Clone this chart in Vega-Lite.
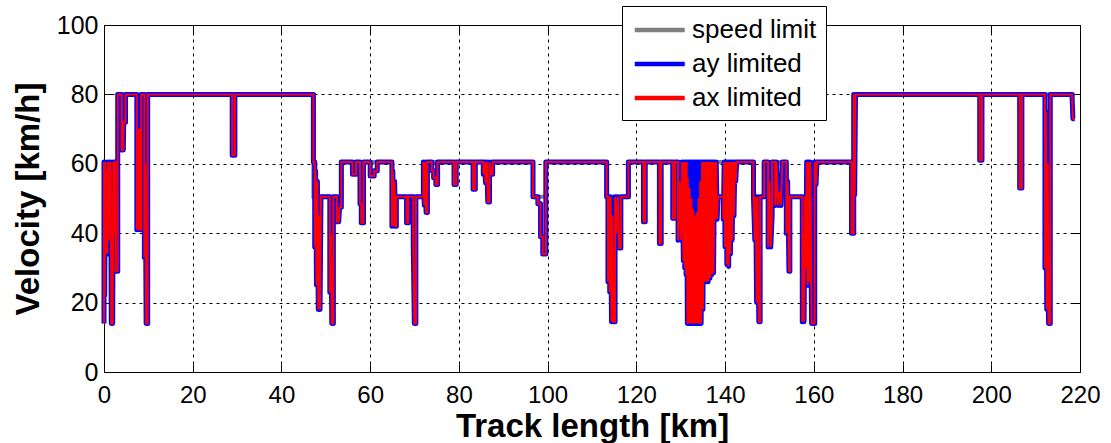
{
  "$schema": "https://vega.github.io/schema/vega-lite/v6.json",
  "width": 976,
  "height": 347,
  "autosize": {"type": "none"},
  "padding": {"left": 104, "top": 25, "right": 31, "bottom": 71},
  "background": "white",
  "config": {
    "font": "Liberation Sans",
    "view": {"stroke": "black", "strokeWidth": 1},
    "line": {"strokeJoin": "miter", "strokeCap": "butt"}
  },
  "data": {"values": [
    {"i":1,"x":0,"lim":60.5,"ay":14,"ax":14},
    {"i":2,"x":0,"lim":60.5,"ay":60.5,"ax":60.5},
    {"i":3,"x":0.15,"lim":60.5,"ay":22,"ax":22},
    {"i":4,"x":0.3,"lim":60.5,"ay":60.5,"ax":60.5},
    {"i":5,"x":0.45,"lim":60.5,"ay":34,"ax":34},
    {"i":6,"x":0.6,"lim":60.5,"ay":58,"ax":58},
    {"i":7,"x":0.75,"lim":60.5,"ay":34,"ax":34},
    {"i":8,"x":0.9,"lim":60.5,"ay":60.5,"ax":60.5},
    {"i":9,"x":1.05,"lim":60.5,"ay":38,"ax":38},
    {"i":10,"x":1.2,"lim":60.5,"ay":60.5,"ax":60.5},
    {"i":11,"x":1.35,"lim":60.5,"ay":44,"ax":44},
    {"i":12,"x":1.5,"lim":60.5,"ay":60.5,"ax":60.5},
    {"i":13,"x":1.65,"lim":60.5,"ay":14,"ax":14},
    {"i":14,"x":1.95,"lim":60.5,"ay":14,"ax":14},
    {"i":15,"x":2.1,"lim":60.5,"ay":60.5,"ax":60.5},
    {"i":16,"x":2.25,"lim":60.5,"ay":40,"ax":40},
    {"i":17,"x":2.4,"lim":60.5,"ay":60.5,"ax":60.5},
    {"i":18,"x":2.6,"lim":60.5,"ay":60.5,"ax":60.5},
    {"i":19,"x":2.6,"lim":60.5,"ay":29,"ax":29},
    {"i":20,"x":2.95,"lim":60.5,"ay":29,"ax":29},
    {"i":21,"x":3.1,"lim":60.5,"ay":29,"ax":29},
    {"i":22,"x":3.1,"lim":80,"ay":80,"ax":80},
    {"i":23,"x":4.0,"lim":80,"ay":80,"ax":80},
    {"i":24,"x":4.0,"lim":80,"ay":64,"ax":64},
    {"i":25,"x":4.35,"lim":80,"ay":64,"ax":64},
    {"i":26,"x":4.45,"lim":80,"ay":72,"ax":72},
    {"i":27,"x":4.85,"lim":80,"ay":72,"ax":72},
    {"i":28,"x":4.85,"lim":80,"ay":80,"ax":80},
    {"i":29,"x":7.4,"lim":80,"ay":80,"ax":80},
    {"i":30,"x":7.4,"lim":80,"ay":41,"ax":41},
    {"i":31,"x":7.6,"lim":80,"ay":70,"ax":70},
    {"i":32,"x":7.8,"lim":80,"ay":41,"ax":41},
    {"i":33,"x":8.0,"lim":80,"ay":70,"ax":70},
    {"i":34,"x":8.2,"lim":80,"ay":41,"ax":41},
    {"i":35,"x":8.4,"lim":80,"ay":41,"ax":41},
    {"i":36,"x":8.4,"lim":80,"ay":80,"ax":80},
    {"i":37,"x":9.1,"lim":80,"ay":80,"ax":80},
    {"i":38,"x":9.1,"lim":80,"ay":33,"ax":33},
    {"i":39,"x":9.3,"lim":80,"ay":60,"ax":60},
    {"i":40,"x":9.5,"lim":80,"ay":14,"ax":14},
    {"i":41,"x":9.85,"lim":80,"ay":14,"ax":14},
    {"i":42,"x":9.85,"lim":80,"ay":80,"ax":80},
    {"i":43,"x":28.9,"lim":80,"ay":80,"ax":80},
    {"i":44,"x":28.9,"lim":80,"ay":62.5,"ax":62.5},
    {"i":45,"x":29.5,"lim":80,"ay":62.5,"ax":62.5},
    {"i":46,"x":29.5,"lim":80,"ay":80,"ax":80},
    {"i":47,"x":47.2,"lim":80,"ay":80,"ax":80},
    {"i":48,"x":47.2,"lim":50.5,"ay":60.5,"ax":60.5},
    {"i":49,"x":47.5,"lim":50.5,"ay":60.5,"ax":60.5},
    {"i":50,"x":47.5,"lim":50.5,"ay":36,"ax":36},
    {"i":51,"x":47.7,"lim":50.5,"ay":58,"ax":58},
    {"i":52,"x":47.9,"lim":50.5,"ay":25,"ax":25},
    {"i":53,"x":48.1,"lim":50.5,"ay":55,"ax":55},
    {"i":54,"x":48.3,"lim":50.5,"ay":18,"ax":18},
    {"i":55,"x":48.5,"lim":50.5,"ay":45,"ax":45},
    {"i":56,"x":48.7,"lim":50.5,"ay":18,"ax":18},
    {"i":57,"x":48.9,"lim":50.5,"ay":50.5,"ax":50.5},
    {"i":58,"x":50.9,"lim":50.5,"ay":50.5,"ax":50.5},
    {"i":59,"x":50.9,"lim":50.5,"ay":23,"ax":23},
    {"i":60,"x":51.15,"lim":50.5,"ay":40,"ax":40},
    {"i":61,"x":51.35,"lim":50.5,"ay":14,"ax":14},
    {"i":62,"x":51.7,"lim":50.5,"ay":14,"ax":14},
    {"i":63,"x":51.7,"lim":50.5,"ay":50.5,"ax":50.5},
    {"i":64,"x":52.5,"lim":50.5,"ay":50.5,"ax":50.5},
    {"i":65,"x":52.5,"lim":50.5,"ay":43.3,"ax":43.3},
    {"i":66,"x":52.9,"lim":50.5,"ay":43.3,"ax":43.3},
    {"i":67,"x":53.1,"lim":50.5,"ay":47.5,"ax":47.5},
    {"i":68,"x":53.5,"lim":50.5,"ay":47.5,"ax":47.5},
    {"i":69,"x":53.5,"lim":60.5,"ay":60.5,"ax":60.5},
    {"i":70,"x":56.0,"lim":60.5,"ay":60.5,"ax":60.5},
    {"i":71,"x":56.0,"lim":60.5,"ay":57,"ax":57},
    {"i":72,"x":56.8,"lim":60.5,"ay":57,"ax":57},
    {"i":73,"x":56.8,"lim":60.5,"ay":60.5,"ax":60.5},
    {"i":74,"x":57.7,"lim":60.5,"ay":60.5,"ax":60.5},
    {"i":75,"x":57.7,"lim":60.5,"ay":48.5,"ax":48.5},
    {"i":76,"x":58.0,"lim":60.5,"ay":48.5,"ax":48.5},
    {"i":77,"x":58.0,"lim":60.5,"ay":43,"ax":43},
    {"i":78,"x":58.5,"lim":60.5,"ay":43,"ax":43},
    {"i":79,"x":58.5,"lim":60.5,"ay":60.5,"ax":60.5},
    {"i":80,"x":60.0,"lim":60.5,"ay":60.5,"ax":60.5},
    {"i":81,"x":60.0,"lim":60.5,"ay":56.5,"ax":56.5},
    {"i":82,"x":60.9,"lim":60.5,"ay":56.5,"ax":56.5},
    {"i":83,"x":60.9,"lim":60.5,"ay":58,"ax":58},
    {"i":84,"x":61.6,"lim":60.5,"ay":58,"ax":58},
    {"i":85,"x":61.6,"lim":60.5,"ay":60.5,"ax":60.5},
    {"i":86,"x":64.9,"lim":60.5,"ay":60.5,"ax":60.5},
    {"i":87,"x":64.9,"lim":50.5,"ay":42,"ax":42},
    {"i":88,"x":65.1,"lim":50.5,"ay":58,"ax":58},
    {"i":89,"x":65.3,"lim":50.5,"ay":42,"ax":42},
    {"i":90,"x":65.5,"lim":50.5,"ay":55,"ax":55},
    {"i":91,"x":65.7,"lim":50.5,"ay":42,"ax":42},
    {"i":92,"x":65.9,"lim":50.5,"ay":42,"ax":42},
    {"i":93,"x":65.9,"lim":50.5,"ay":50.5,"ax":50.5},
    {"i":94,"x":68.2,"lim":50.5,"ay":50.5,"ax":50.5},
    {"i":95,"x":68.2,"lim":50.5,"ay":43,"ax":43},
    {"i":96,"x":68.6,"lim":50.5,"ay":43,"ax":43},
    {"i":97,"x":68.6,"lim":50.5,"ay":50.5,"ax":50.5},
    {"i":98,"x":69.7,"lim":50.5,"ay":50.5,"ax":50.5},
    {"i":99,"x":69.7,"lim":50.5,"ay":38,"ax":38},
    {"i":100,"x":69.95,"lim":50.5,"ay":14,"ax":14},
    {"i":101,"x":70.3,"lim":50.5,"ay":14,"ax":14},
    {"i":102,"x":70.3,"lim":50.5,"ay":50.5,"ax":50.5},
    {"i":103,"x":72.0,"lim":50.5,"ay":50.5,"ax":50.5},
    {"i":104,"x":72.0,"lim":60.5,"ay":60.5,"ax":60.5},
    {"i":105,"x":72.2,"lim":60.5,"ay":48,"ax":48},
    {"i":106,"x":72.4,"lim":60.5,"ay":60.5,"ax":60.5},
    {"i":107,"x":72.6,"lim":60.5,"ay":46,"ax":46},
    {"i":108,"x":72.9,"lim":60.5,"ay":46,"ax":46},
    {"i":109,"x":72.9,"lim":60.5,"ay":60.5,"ax":60.5},
    {"i":110,"x":73.9,"lim":60.5,"ay":60.5,"ax":60.5},
    {"i":111,"x":73.9,"lim":60.5,"ay":58,"ax":58},
    {"i":112,"x":74.3,"lim":60.5,"ay":58,"ax":58},
    {"i":113,"x":74.3,"lim":60.5,"ay":56,"ax":56},
    {"i":114,"x":74.8,"lim":60.5,"ay":56,"ax":56},
    {"i":115,"x":74.8,"lim":60.5,"ay":54,"ax":54},
    {"i":116,"x":75.2,"lim":60.5,"ay":54,"ax":54},
    {"i":117,"x":75.2,"lim":60.5,"ay":60.5,"ax":60.5},
    {"i":118,"x":78.9,"lim":60.5,"ay":60.5,"ax":60.5},
    {"i":119,"x":78.9,"lim":60.5,"ay":54,"ax":54},
    {"i":120,"x":79.4,"lim":60.5,"ay":54,"ax":54},
    {"i":121,"x":79.4,"lim":60.5,"ay":60.5,"ax":60.5},
    {"i":122,"x":83.2,"lim":60.5,"ay":60.5,"ax":60.5},
    {"i":123,"x":83.2,"lim":60.5,"ay":52.7,"ax":52.7},
    {"i":124,"x":83.7,"lim":60.5,"ay":52.7,"ax":52.7},
    {"i":125,"x":83.7,"lim":60.5,"ay":60.5,"ax":60.5},
    {"i":126,"x":85.5,"lim":60.5,"ay":60.5,"ax":60.5},
    {"i":127,"x":85.5,"lim":60.5,"ay":57,"ax":57},
    {"i":128,"x":85.8,"lim":60.5,"ay":60.5,"ax":60.5},
    {"i":129,"x":86.0,"lim":60.5,"ay":54.5,"ax":54.5},
    {"i":130,"x":86.3,"lim":60.5,"ay":60.5,"ax":60.5},
    {"i":131,"x":86.5,"lim":60.5,"ay":49,"ax":49},
    {"i":132,"x":86.9,"lim":60.5,"ay":49,"ax":49},
    {"i":133,"x":86.9,"lim":60.5,"ay":60.5,"ax":60.5},
    {"i":134,"x":87.3,"lim":60.5,"ay":57,"ax":57},
    {"i":135,"x":87.6,"lim":60.5,"ay":57,"ax":57},
    {"i":136,"x":87.6,"lim":60.5,"ay":60.5,"ax":60.5},
    {"i":137,"x":96.7,"lim":60.5,"ay":60.5,"ax":60.5},
    {"i":138,"x":96.7,"lim":50.5,"ay":50.5,"ax":50.5},
    {"i":139,"x":97.8,"lim":50.5,"ay":50.5,"ax":50.5},
    {"i":140,"x":97.8,"lim":50.5,"ay":48.5,"ax":48.5},
    {"i":141,"x":98.4,"lim":50.5,"ay":48.5,"ax":48.5},
    {"i":142,"x":98.4,"lim":50.5,"ay":39,"ax":39},
    {"i":143,"x":98.9,"lim":50.5,"ay":39,"ax":39},
    {"i":144,"x":98.9,"lim":50.5,"ay":34,"ax":34},
    {"i":145,"x":99.6,"lim":50.5,"ay":34,"ax":34},
    {"i":146,"x":99.6,"lim":60.5,"ay":60.5,"ax":60.5},
    {"i":147,"x":113.3,"lim":60.5,"ay":60.5,"ax":60.5},
    {"i":148,"x":113.3,"lim":50.5,"ay":50.5,"ax":50.5},
    {"i":149,"x":113.6,"lim":50.5,"ay":50.5,"ax":50.5},
    {"i":150,"x":113.6,"lim":50.5,"ay":26,"ax":26},
    {"i":151,"x":113.8,"lim":50.5,"ay":50.5,"ax":50.5},
    {"i":152,"x":114.0,"lim":50.5,"ay":23,"ax":23},
    {"i":153,"x":114.2,"lim":50.5,"ay":50.5,"ax":50.5},
    {"i":154,"x":114.4,"lim":50.5,"ay":14.5,"ax":14.5},
    {"i":155,"x":114.6,"lim":50.5,"ay":45,"ax":45},
    {"i":156,"x":114.8,"lim":50.5,"ay":14.5,"ax":14.5},
    {"i":157,"x":115.2,"lim":50.5,"ay":14.5,"ax":14.5},
    {"i":158,"x":115.2,"lim":50.5,"ay":50.5,"ax":50.5},
    {"i":159,"x":115.5,"lim":50.5,"ay":40,"ax":40},
    {"i":160,"x":115.8,"lim":50.5,"ay":50.5,"ax":50.5},
    {"i":161,"x":116.1,"lim":50.5,"ay":35.7,"ax":35.7},
    {"i":162,"x":116.5,"lim":50.5,"ay":35.7,"ax":35.7},
    {"i":163,"x":116.5,"lim":50.5,"ay":50.5,"ax":50.5},
    {"i":164,"x":118.2,"lim":50.5,"ay":50.5,"ax":50.5},
    {"i":165,"x":118.2,"lim":60.5,"ay":60.5,"ax":60.5},
    {"i":166,"x":121.6,"lim":60.5,"ay":60.5,"ax":60.5},
    {"i":167,"x":121.6,"lim":60.5,"ay":43.3,"ax":43.3},
    {"i":168,"x":122.0,"lim":60.5,"ay":43.3,"ax":43.3},
    {"i":169,"x":122.0,"lim":60.5,"ay":60.5,"ax":60.5},
    {"i":170,"x":125.2,"lim":60.5,"ay":60.5,"ax":60.5},
    {"i":171,"x":125.2,"lim":60.5,"ay":37,"ax":37},
    {"i":172,"x":125.6,"lim":60.5,"ay":37,"ax":37},
    {"i":173,"x":125.6,"lim":60.5,"ay":60.5,"ax":60.5},
    {"i":174,"x":128.2,"lim":60.5,"ay":60.5,"ax":60.5},
    {"i":175,"x":128.2,"lim":60.5,"ay":44.3,"ax":44.3},
    {"i":176,"x":128.7,"lim":60.5,"ay":44.3,"ax":44.3},
    {"i":177,"x":128.7,"lim":60.5,"ay":60.5,"ax":60.5},
    {"i":178,"x":129.4,"lim":60.5,"ay":60.5,"ax":60.5},
    {"i":179,"x":129.4,"lim":60.5,"ay":38,"ax":38},
    {"i":180,"x":129.7,"lim":60.5,"ay":55,"ax":55},
    {"i":181,"x":130.0,"lim":60.5,"ay":38,"ax":38},
    {"i":182,"x":130.3,"lim":60.5,"ay":60.5,"ax":60.5},
    {"i":183,"x":130.6,"lim":60.5,"ay":32,"ax":32},
    {"i":184,"x":130.75,"lim":60.5,"ay":60.5,"ax":60.5},
    {"i":185,"x":130.9,"lim":60.5,"ay":30,"ax":30},
    {"i":186,"x":131.05,"lim":60.5,"ay":60.5,"ax":60.5},
    {"i":187,"x":131.2,"lim":60.5,"ay":28,"ax":28},
    {"i":188,"x":131.35,"lim":60.5,"ay":60.5,"ax":60.5},
    {"i":189,"x":131.5,"lim":60.5,"ay":14,"ax":14},
    {"i":190,"x":131.6,"lim":60.5,"ay":60.5,"ax":56},
    {"i":191,"x":131.8,"lim":60.5,"ay":14,"ax":14},
    {"i":192,"x":132.0,"lim":60.5,"ay":60.5,"ax":53},
    {"i":193,"x":132.2,"lim":60.5,"ay":14,"ax":14},
    {"i":194,"x":132.4,"lim":60.5,"ay":60.5,"ax":50},
    {"i":195,"x":132.6,"lim":60.5,"ay":14,"ax":14},
    {"i":196,"x":132.8,"lim":60.5,"ay":60.5,"ax":47},
    {"i":197,"x":133.0,"lim":60.5,"ay":14,"ax":14},
    {"i":198,"x":133.2,"lim":60.5,"ay":60.5,"ax":45},
    {"i":199,"x":133.4,"lim":60.5,"ay":14,"ax":14},
    {"i":200,"x":133.6,"lim":60.5,"ay":60.5,"ax":46},
    {"i":201,"x":133.8,"lim":60.5,"ay":14,"ax":14},
    {"i":202,"x":134.0,"lim":60.5,"ay":60.5,"ax":50},
    {"i":203,"x":134.2,"lim":60.5,"ay":14,"ax":14},
    {"i":204,"x":134.4,"lim":60.5,"ay":60.5,"ax":55},
    {"i":205,"x":134.6,"lim":60.5,"ay":14,"ax":14},
    {"i":206,"x":134.8,"lim":60.5,"ay":60.5,"ax":60.5},
    {"i":207,"x":135.0,"lim":60.5,"ay":18,"ax":18},
    {"i":208,"x":135.2,"lim":60.5,"ay":60.5,"ax":60.5},
    {"i":209,"x":135.4,"lim":60.5,"ay":26,"ax":26},
    {"i":210,"x":135.6,"lim":60.5,"ay":60.5,"ax":60.5},
    {"i":211,"x":135.8,"lim":60.5,"ay":26,"ax":26},
    {"i":212,"x":136.0,"lim":60.5,"ay":60.5,"ax":60.5},
    {"i":213,"x":136.2,"lim":60.5,"ay":26,"ax":26},
    {"i":214,"x":136.4,"lim":60.5,"ay":60.5,"ax":60.5},
    {"i":215,"x":136.6,"lim":60.5,"ay":27,"ax":27},
    {"i":216,"x":136.8,"lim":60.5,"ay":60.5,"ax":60.5},
    {"i":217,"x":137.0,"lim":60.5,"ay":28,"ax":28},
    {"i":218,"x":137.2,"lim":60.5,"ay":60.5,"ax":60.5},
    {"i":219,"x":137.4,"lim":60.5,"ay":28.5,"ax":28.5},
    {"i":220,"x":137.6,"lim":60.5,"ay":60.5,"ax":60.5},
    {"i":221,"x":137.8,"lim":60.5,"ay":44,"ax":44},
    {"i":222,"x":138.0,"lim":60.5,"ay":60.5,"ax":60.5},
    {"i":223,"x":138.2,"lim":60.5,"ay":44,"ax":44},
    {"i":224,"x":138.4,"lim":60.5,"ay":50.5,"ax":50.5},
    {"i":225,"x":139.6,"lim":60.5,"ay":50.5,"ax":50.5},
    {"i":226,"x":139.6,"lim":60.5,"ay":44,"ax":44},
    {"i":227,"x":139.8,"lim":60.5,"ay":60.5,"ax":60.5},
    {"i":228,"x":140.0,"lim":60.5,"ay":36,"ax":36},
    {"i":229,"x":140.2,"lim":60.5,"ay":60.5,"ax":60.5},
    {"i":230,"x":140.4,"lim":60.5,"ay":31,"ax":31},
    {"i":231,"x":140.6,"lim":60.5,"ay":60.5,"ax":60.5},
    {"i":232,"x":140.8,"lim":60.5,"ay":30.4,"ax":30.4},
    {"i":233,"x":141.0,"lim":60.5,"ay":60.5,"ax":60.5},
    {"i":234,"x":141.2,"lim":60.5,"ay":34,"ax":34},
    {"i":235,"x":141.4,"lim":60.5,"ay":60.5,"ax":60.5},
    {"i":236,"x":141.6,"lim":60.5,"ay":38,"ax":38},
    {"i":237,"x":141.8,"lim":60.5,"ay":60.5,"ax":60.5},
    {"i":238,"x":142.0,"lim":60.5,"ay":45,"ax":45},
    {"i":239,"x":142.2,"lim":60.5,"ay":60.5,"ax":60.5},
    {"i":240,"x":142.4,"lim":60.5,"ay":55,"ax":55},
    {"i":241,"x":142.6,"lim":60.5,"ay":60.5,"ax":60.5},
    {"i":242,"x":146.4,"lim":60.5,"ay":60.5,"ax":60.5},
    {"i":243,"x":146.4,"lim":50.5,"ay":50.5,"ax":50.5},
    {"i":244,"x":146.7,"lim":50.5,"ay":38,"ax":38},
    {"i":245,"x":146.9,"lim":50.5,"ay":50.5,"ax":50.5},
    {"i":246,"x":147.1,"lim":50.5,"ay":20,"ax":20},
    {"i":247,"x":147.3,"lim":50.5,"ay":50.5,"ax":50.5},
    {"i":248,"x":147.6,"lim":50.5,"ay":14.5,"ax":14.5},
    {"i":249,"x":147.9,"lim":50.5,"ay":14.5,"ax":14.5},
    {"i":250,"x":147.9,"lim":50.5,"ay":50.5,"ax":50.5},
    {"i":251,"x":148.8,"lim":50.5,"ay":50.5,"ax":50.5},
    {"i":252,"x":148.8,"lim":60.5,"ay":60.5,"ax":60.5},
    {"i":253,"x":149.7,"lim":60.5,"ay":60.5,"ax":60.5},
    {"i":254,"x":149.7,"lim":60.5,"ay":36,"ax":36},
    {"i":255,"x":150.0,"lim":60.5,"ay":55,"ax":55},
    {"i":256,"x":150.3,"lim":60.5,"ay":36,"ax":36},
    {"i":257,"x":150.6,"lim":60.5,"ay":45,"ax":45},
    {"i":258,"x":150.6,"lim":60.5,"ay":60.5,"ax":60.5},
    {"i":259,"x":151.3,"lim":60.5,"ay":60.5,"ax":60.5},
    {"i":260,"x":151.3,"lim":60.5,"ay":48,"ax":48},
    {"i":261,"x":151.6,"lim":60.5,"ay":60.5,"ax":60.5},
    {"i":262,"x":151.9,"lim":60.5,"ay":48,"ax":48},
    {"i":263,"x":152.2,"lim":60.5,"ay":52,"ax":52},
    {"i":264,"x":152.6,"lim":60.5,"ay":48,"ax":48},
    {"i":265,"x":152.9,"lim":60.5,"ay":60.5,"ax":60.5},
    {"i":266,"x":153.8,"lim":60.5,"ay":60.5,"ax":60.5},
    {"i":267,"x":153.8,"lim":50.5,"ay":40,"ax":40},
    {"i":268,"x":154.1,"lim":50.5,"ay":55,"ax":55},
    {"i":269,"x":154.4,"lim":50.5,"ay":29,"ax":29},
    {"i":270,"x":154.6,"lim":50.5,"ay":29,"ax":29},
    {"i":271,"x":154.6,"lim":50.5,"ay":50.5,"ax":50.5},
    {"i":272,"x":157.4,"lim":50.5,"ay":50.5,"ax":50.5},
    {"i":273,"x":157.4,"lim":50.5,"ay":14.5,"ax":14.5},
    {"i":274,"x":157.6,"lim":50.5,"ay":40,"ax":40},
    {"i":275,"x":157.8,"lim":50.5,"ay":14.5,"ax":14.5},
    {"i":276,"x":158.0,"lim":50.5,"ay":50.5,"ax":50.5},
    {"i":277,"x":158.2,"lim":50.5,"ay":30,"ax":30},
    {"i":278,"x":158.4,"lim":60.5,"ay":60.5,"ax":60.5},
    {"i":279,"x":158.6,"lim":60.5,"ay":25,"ax":25},
    {"i":280,"x":158.8,"lim":60.5,"ay":60.5,"ax":60.5},
    {"i":281,"x":159.0,"lim":60.5,"ay":26,"ax":26},
    {"i":282,"x":159.2,"lim":60.5,"ay":60.5,"ax":60.5},
    {"i":283,"x":159.5,"lim":60.5,"ay":14,"ax":14},
    {"i":284,"x":160.2,"lim":60.5,"ay":14,"ax":14},
    {"i":285,"x":160.2,"lim":60.5,"ay":60.5,"ax":60.5},
    {"i":286,"x":160.5,"lim":60.5,"ay":54,"ax":54},
    {"i":287,"x":160.7,"lim":60.5,"ay":60.5,"ax":60.5},
    {"i":288,"x":168.5,"lim":60.5,"ay":60.5,"ax":60.5},
    {"i":289,"x":168.5,"lim":60.5,"ay":40,"ax":40},
    {"i":290,"x":169.0,"lim":60.5,"ay":40,"ax":40},
    {"i":291,"x":169.0,"lim":80,"ay":80,"ax":80},
    {"i":292,"x":169.2,"lim":80,"ay":51,"ax":51},
    {"i":293,"x":169.4,"lim":80,"ay":80,"ax":80},
    {"i":294,"x":197.4,"lim":80,"ay":80,"ax":80},
    {"i":295,"x":197.4,"lim":80,"ay":61,"ax":61},
    {"i":296,"x":197.9,"lim":80,"ay":61,"ax":61},
    {"i":297,"x":197.9,"lim":80,"ay":80,"ax":80},
    {"i":298,"x":206.4,"lim":80,"ay":80,"ax":80},
    {"i":299,"x":206.4,"lim":80,"ay":53,"ax":53},
    {"i":300,"x":206.9,"lim":80,"ay":53,"ax":53},
    {"i":301,"x":206.9,"lim":80,"ay":80,"ax":80},
    {"i":302,"x":212.1,"lim":80,"ay":80,"ax":80},
    {"i":303,"x":212.1,"lim":80,"ay":30,"ax":30},
    {"i":304,"x":212.3,"lim":80,"ay":75,"ax":75},
    {"i":305,"x":212.5,"lim":80,"ay":18,"ax":18},
    {"i":306,"x":212.7,"lim":80,"ay":60,"ax":60},
    {"i":307,"x":212.9,"lim":80,"ay":14,"ax":14},
    {"i":308,"x":213.3,"lim":80,"ay":14,"ax":14},
    {"i":309,"x":213.3,"lim":80,"ay":80,"ax":80},
    {"i":310,"x":218.2,"lim":80,"ay":80,"ax":80},
    {"i":311,"x":218.4,"lim":80,"ay":73,"ax":73},
    {"i":312,"x":218.8,"lim":80,"ay":73,"ax":73}
  ]},
  "transform": [{"fold": ["lim", "ay", "ax"], "as": ["series", "v"]}],
  "resolve": {"axis": {"x": "independent", "y": "independent"}},
  "layer": [
    {
      "transform": [{"filter": "datum.series === 'lim'"}],
      "mark": {"type": "line", "strokeWidth": 4},
      "encoding": {
        "x": {"field": "x", "type": "quantitative",
          "scale": {"domain": [0, 220], "nice": false, "zero": false},
          "axis": {"orient": "bottom", "values": [0,20,40,60,80,100,120,140,160,180,200,220],
            "title": "Track length [km]", "titleFontSize": 33, "titleFontWeight": "bold", "titleColor": "black", "titlePadding": 3,
            "labelFontSize": 24, "labelColor": "black", "labelPadding": 19, "labelFlush": false,
            "tickSize": -8, "tickColor": "black", "tickWidth": 1, "domain": false,
            "grid": true, "gridColor": "black", "gridDash": [3, 4], "gridWidth": 1, "gridOpacity": 1}},
        "y": {"field": "v", "type": "quantitative",
          "scale": {"domain": [0, 100], "nice": false},
          "axis": {"orient": "left", "values": [0,20,40,60,80,100],
            "title": "Velocity [km/h]", "titleFontSize": 33, "titleFontWeight": "bold", "titleColor": "black", "titlePadding": 11,
            "labelFontSize": 25, "labelColor": "black", "labelPadding": 14, "labelFlush": false,
            "tickSize": -8, "tickColor": "black", "tickWidth": 1, "domain": false,
            "grid": true, "gridColor": "black", "gridDash": [3, 4], "gridWidth": 1, "gridOpacity": 1}},
        "order": {"field": "i", "type": "quantitative"},
        "color": {"field": "series", "type": "nominal",
          "scale": {"domain": ["lim", "ay", "ax"], "range": ["#808080", "#0000ff", "#ff0000"]},
          "legend": {"orient": "none", "legendX": 518, "legendY": -19, "title": null,
            "labelExpr": "datum.label === 'lim' ? 'speed limit' : datum.label === 'ay' ? 'ay limited' : 'ax limited'",
            "labelFontSize": 26, "labelColor": "black", "symbolType": "M-0.9,0H3.1", "symbolSize": 625,
            "symbolStrokeWidth": 4.5,
            "strokeColor": "black", "fillColor": "white", "padding": 9, "rowPadding": 6, "labelOffset": 31,
            "encode": {"symbols": {"strokeWidth": {"condition": {"test": "datum.value === 'ax'", "value": 2}, "value": 4.5}}}}}
      }
    },
    {
      "transform": [{"filter": "datum.series === 'ay'"}],
      "mark": {"type": "line", "strokeWidth": 5, "strokeJoin": "round"},
      "encoding": {
        "x": {"field": "x", "type": "quantitative",
          "axis": {"orient": "top", "values": [0,20,40,60,80,100,120,140,160,180,200,220],
            "title": null, "labels": false, "tickSize": -8, "tickColor": "black", "tickWidth": 1, "domain": false, "grid": false}},
        "y": {"field": "v", "type": "quantitative",
          "axis": {"orient": "right", "values": [0,20,40,60,80,100],
            "title": null, "labels": false, "tickSize": -8, "tickColor": "black", "tickWidth": 1, "domain": false, "grid": false}},
        "order": {"field": "i", "type": "quantitative"},
        "color": {"field": "series", "type": "nominal"}
      }
    },
    {
      "transform": [{"filter": "datum.series === 'ax'"}],
      "mark": {"type": "line", "strokeWidth": 2},
      "encoding": {
        "x": {"field": "x", "type": "quantitative", "axis": null},
        "y": {"field": "v", "type": "quantitative", "axis": null},
        "order": {"field": "i", "type": "quantitative"},
        "color": {"field": "series", "type": "nominal"}
      }
    }
  ]
}
